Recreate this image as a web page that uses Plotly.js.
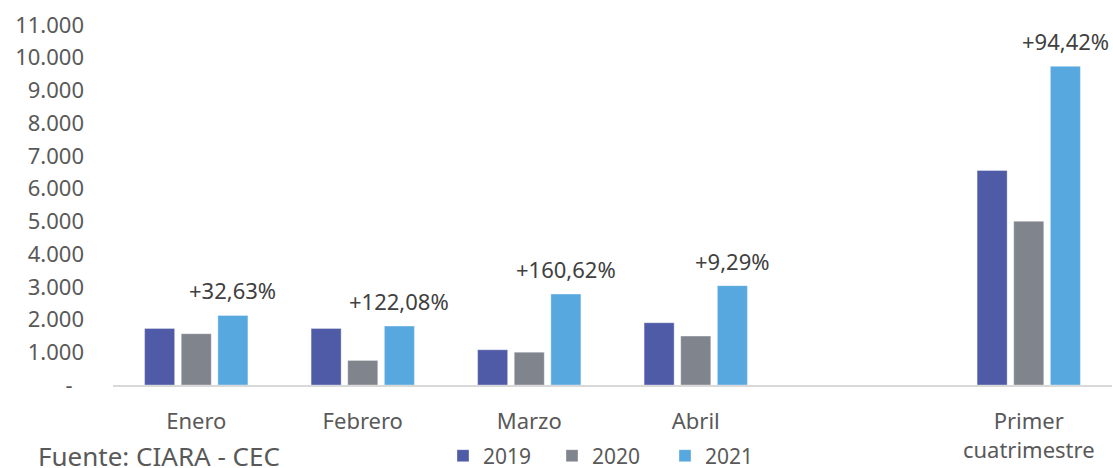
<!DOCTYPE html>
<html>
<head>
<meta charset="utf-8">
<script src="https://cdn.plot.ly/plotly-3.0.1.min.js"></script>
<style>
  html, body { margin: 0; padding: 0; background: #ffffff; }
  #chart { width: 1113px; height: 468px; }
</style>
</head>
<body>
<div id="chart"></div>
<script>
// ---- data ----
const categories = ["Enero", "Febrero", "Marzo", "Abril", " ", "Primer<br>cuatrimestre"];
const seriesNames = ["2019", "2020", "2021"];
const values2019 = [1730, 1730, 1078, 1903, null, 6555];
const values2020 = [1567, 750, 1004, 1494, null, 5003];
const values2021 = [2127, 1800, 2779, 3035, null, 9737];
const growthLabels = ["+32,63%", "+122,08%", "+160,62%", "+9,29%", "", "+94,42%"];
const yTickVals = [0, 1000, 2000, 3000, 4000, 5000, 6000, 7000, 8000, 9000, 10000, 11000];
const yTickText = ["-&nbsp;&nbsp;", "1.000", "2.000", "3.000", "4.000", "5.000", "6.000", "7.000", "8.000", "9.000", "10.000", "11.000"];
const sourceText = "Fuente: CIARA - CEC";

// ---- styles ----
const colors = ["#4F5BA6", "#80848D", "#57A8DE"];
const FONT = "Noto Sans, Open Sans, sans-serif";
const W = 1113, H = 468;

const seriesValues = [values2019, values2020, values2021];
const legendIds = ["legend", "legend2", "legend3"];
const traces = seriesValues.map((vals, i) => ({
  type: "bar",
  name: seriesNames[i],
  x: categories,
  y: vals,
  marker: { color: colors[i], line: { color: "rgba(255,255,255,0.35)", width: 1 } },
  legend: legendIds[i],
  hoverinfo: "skip",
  cliponaxis: false
}));

const annotations = [];
categories.forEach((c, i) => {
  if (!growthLabels[i]) return;
  annotations.push({
    x: c, y: values2021[i], xref: "x", yref: "y",
    text: growthLabels[i], showarrow: false,
    xanchor: "center", yanchor: "middle",
    xshift: 36.5, yshift: 25,
    font: { family: FONT, size: 22, color: "#404040" }
  });
});
annotations.push({
  xref: "paper", yref: "paper", x: (36 - 113) / 999, y: -(456 - 385) / 360,
  xanchor: "left", yanchor: "middle", showarrow: false,
  text: sourceText,
  font: { family: FONT, size: 26, color: "#595959" }
});

function legendAt(px) {
  return {
    xref: "container", yref: "container",
    x: px / W, y: 1 - 456 / H, xanchor: "left", yanchor: "middle",
    orientation: "h", bgcolor: "rgba(0,0,0,0)",
    font: { family: FONT, size: 21, color: "#595959" },
    itemwidth: 30, tracegroupgap: 0
  };
}

const layout = {
  width: W, height: H,
  margin: { l: 113, r: 1, t: 25, b: 83, pad: 0 },
  paper_bgcolor: "#ffffff",
  plot_bgcolor: "#ffffff",
  font: { family: FONT, color: "#595959" },
  barmode: "group",
  bargap: 0.34,
  bargroupgap: 0.18,
  showlegend: true,
  legend: legendAt(443),
  legend2: legendAt(552),
  legend3: legendAt(665),
  xaxis: {
    type: "category",
    categoryorder: "array",
    categoryarray: categories,
    showgrid: false,
    zeroline: false,
    showline: true,
    linecolor: "#D9D9D9",
    linewidth: 2,
    ticks: "",
    tickfont: { family: FONT, size: 22, color: "#595959" },
    ticklabelstandoff: 16,
    fixedrange: true
  },
  yaxis: {
    range: [0, 11000],
    tickmode: "array",
    tickvals: yTickVals,
    ticktext: yTickText,
    showgrid: false,
    zeroline: false,
    showline: false,
    ticks: "",
    tickfont: { family: FONT, size: 22, color: "#595959" },
    ticklabelstandoff: 28,
    fixedrange: true
  },
  annotations: annotations
};

Plotly.newPlot("chart", traces, layout, { displayModeBar: false, staticPlot: true });
</script>
</body>
</html>
